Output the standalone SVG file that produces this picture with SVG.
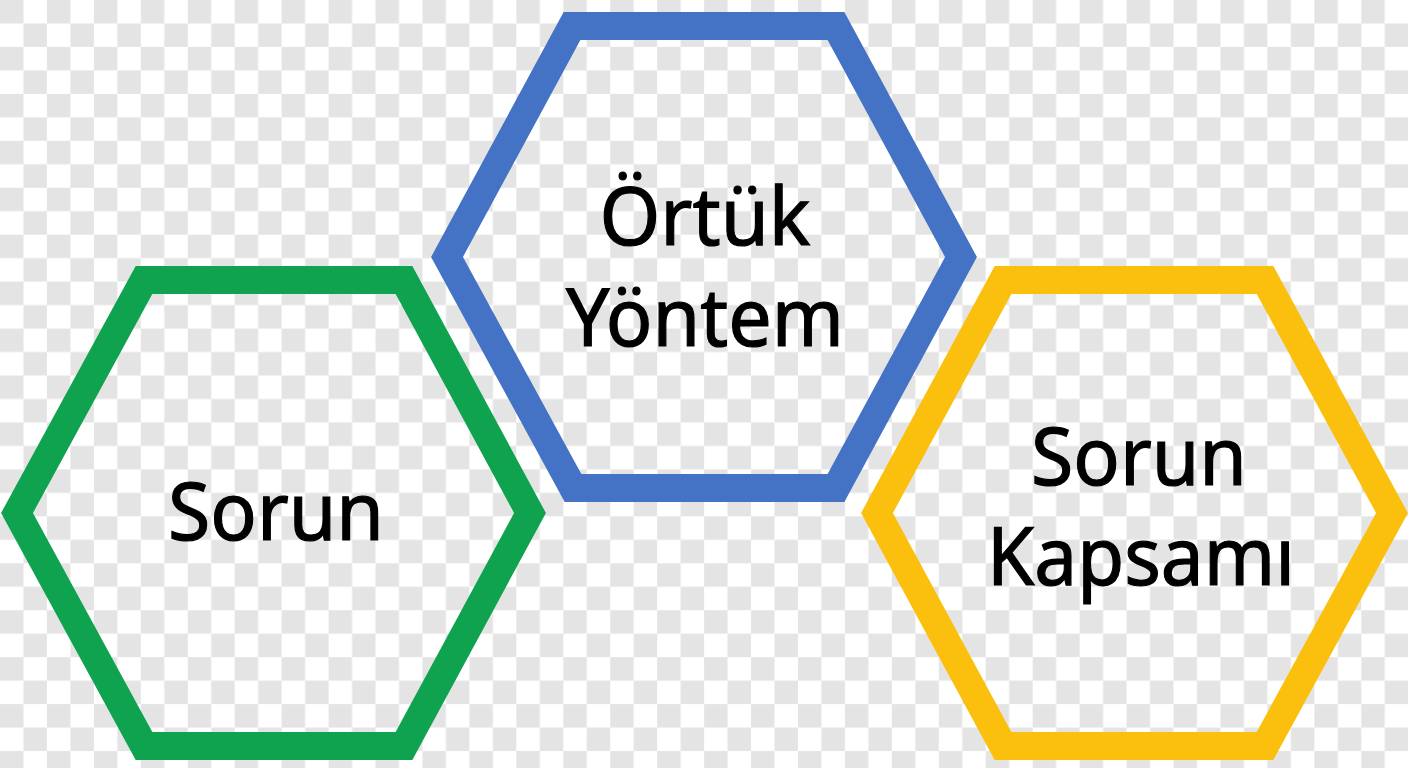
<svg xmlns="http://www.w3.org/2000/svg" width="1408" height="768" viewBox="0 0 1408 768">
  <defs>
    <pattern id="checker" x="0" y="0" width="46.94" height="46.94" patternUnits="userSpaceOnUse">
      <rect x="0" y="0" width="46.94" height="46.94" fill="#ffffff"/>
      <rect x="0" y="0" width="23.47" height="23.47" fill="#e4e4e4"/>
      <rect x="23.47" y="23.47" width="23.47" height="23.47" fill="#e4e4e4"/>
    </pattern>
  </defs>
  <style>
    .hex { fill: none; stroke-width: 28; stroke-linejoin: miter; stroke-miterlimit: 10; }
    .green { stroke: #0fa34f; }
    .blue { stroke: #4472c4; }
    .yellow { stroke: #fbc00e; }
    .label { font-family: "Noto Sans", "Open Sans", "DejaVu Sans", sans-serif; font-size: 81px; fill: #000000; stroke: #000000; stroke-width: 1.2px; text-anchor: middle; }
  </style>
  <rect x="0" y="0" width="1408" height="768" fill="url(#checker)"/>
  <g id="connectors"/>
  <g id="node-sorun">
    <polygon class="hex green" points="144,280 404,280 530,513 404,746 144,746 17,513"/>
    <text class="label" x="276" y="540" textLength="216" lengthAdjust="spacingAndGlyphs">Sorun</text>
  </g>
  <g id="node-ortuk-yontem">
    <polygon class="hex blue" points="572,26 836,26 961,257 836,488 573,488 447,257"/>
    <text class="label" x="705" y="245" textLength="211" lengthAdjust="spacingAndGlyphs">Örtük</text>
    <text class="label" x="705" y="346" textLength="278" lengthAdjust="spacingAndGlyphs">Yöntem</text>
  </g>
  <g id="node-sorun-kapsami">
    <polygon class="hex yellow" points="1003,280 1265,280 1392,513 1265,746 1003,746 877,513"/>
    <text class="label" x="1139" y="485" textLength="216" lengthAdjust="spacingAndGlyphs">Sorun</text>
    <text class="label" x="1141" y="585" textLength="308" lengthAdjust="spacingAndGlyphs">Kapsamı</text>
  </g>
</svg>
